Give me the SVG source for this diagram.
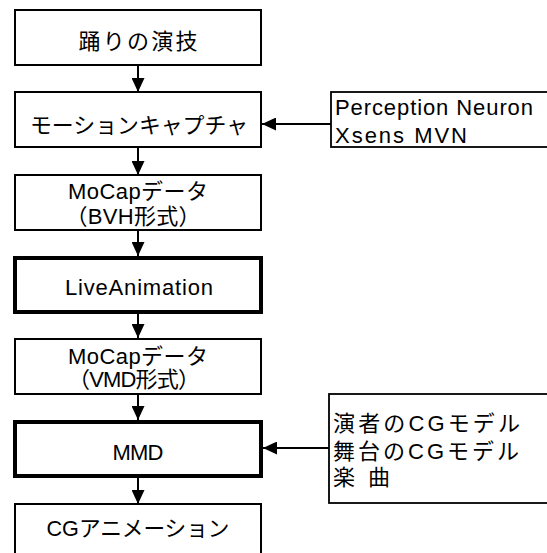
<svg xmlns="http://www.w3.org/2000/svg" width="547" height="553" viewBox="0 0 547 553">
<style>
.box{fill:#fff;stroke:#000;stroke-width:2}
.bold{fill:#fff;stroke:#000;stroke-width:4}
.side{fill:#fff;stroke:#000;stroke-width:1.8}
text{font-family:"Liberation Sans","Noto Sans CJK JP",sans-serif;font-size:22px;fill:#000}
.c{text-anchor:middle}
.conn{stroke:#000;stroke-width:2;fill:none;marker-end:url(#ah)}
</style>
<defs>
<marker id="ah" viewBox="0 0 14 13" refX="14" refY="6.5" markerWidth="14" markerHeight="13" markerUnits="userSpaceOnUse" orient="auto">
<path d="M0,0 L14,6.5 L0,13 z" fill="#000"/>
</marker>
</defs>
<g id="connectors">
<line class="conn" x1="138" y1="65" x2="138" y2="92"/>
<line class="conn" x1="138" y1="147" x2="138" y2="175"/>
<line class="conn" x1="138" y1="230" x2="138" y2="256"/>
<line class="conn" x1="138" y1="313" x2="138" y2="338"/>
<line class="conn" x1="138" y1="394" x2="138" y2="420"/>
<line class="conn" x1="138" y1="477" x2="138" y2="504"/>
<line class="conn" x1="331" y1="124" x2="262" y2="124"/>
<line class="conn" x1="329" y1="448" x2="263" y2="448"/>
</g>
<g id="n1">
<rect class="box" x="15" y="10" width="246" height="55"/>
<text class="c" x="138" y="49" textLength="119" lengthAdjust="spacing">踊りの演技</text>
</g>
<g id="n2">
<rect class="box" x="15" y="92" width="246" height="55"/>
<text class="c" x="139" y="133" textLength="218" lengthAdjust="spacingAndGlyphs">モーションキャプチャ</text>
</g>
<g id="n3">
<rect class="box" x="15" y="175" width="246" height="55"/>
<text class="c" x="138" y="199" textLength="140" lengthAdjust="spacing">MoCapデータ</text>
<text class="c" x="133" y="224" textLength="135" lengthAdjust="spacing">（BVH形式）</text>
</g>
<g id="n4">
<rect class="bold" x="15" y="258" width="246" height="54"/>
<text class="c" x="139" y="295" textLength="148" lengthAdjust="spacing">LiveAnimation</text>
</g>
<g id="n5">
<rect class="box" x="15" y="339" width="246" height="55"/>
<text class="c" x="138" y="364" textLength="140" lengthAdjust="spacing">MoCapデータ</text>
<text class="c" x="134" y="387" textLength="132" lengthAdjust="spacing">（VMD形式）</text>
</g>
<g id="n6">
<rect class="bold" x="15" y="422" width="246" height="54"/>
<text class="c" x="138" y="460" textLength="51" lengthAdjust="spacing">MMD</text>
</g>
<g id="n7">
<rect class="box" x="15" y="504" width="246" height="60"/>
<text class="c" x="138" y="536" textLength="183" lengthAdjust="spacingAndGlyphs">CGアニメーション</text>
</g>
<g id="s1">
<rect class="side" x="331" y="92" width="230" height="55"/>
<text x="335" y="115" textLength="198" lengthAdjust="spacing">Perception Neuron</text>
<text x="335" y="143" textLength="132" lengthAdjust="spacing">Xsens MVN</text>
</g>
<g id="s2">
<rect class="side" x="329" y="394" width="230" height="109"/>
<text x="333" y="431" textLength="187" lengthAdjust="spacing">演者のCGモデル</text>
<text x="333" y="459" textLength="186" lengthAdjust="spacing">舞台のCGモデル</text>
<text x="333" y="485" textLength="57" lengthAdjust="spacing">楽　曲</text>
</g>
</svg>
